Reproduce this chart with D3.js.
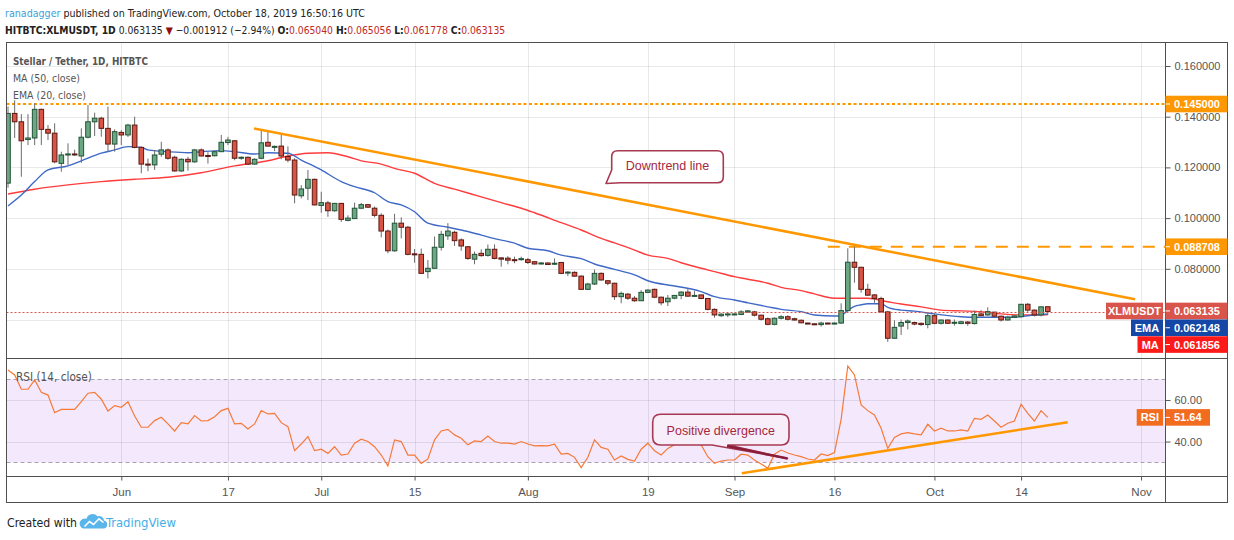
<!DOCTYPE html>
<html>
<head>
<meta charset="utf-8">
<script src="https://cdn.jsdelivr.net/npm/d3@7"></script>
<style>
body { margin: 0; background: #fff; }
svg { display: block; font-family: "Liberation Sans", Arial, sans-serif; }
</style>
</head>
<body>
<svg id="chart"></svg>
<script>
// daily candles, HITBTC:XLMUSDT, first bar 2019-05-15
const startDay = "2019-05-15";

const open = [
  0.1138, 0.1413, 0.1380, 0.1310, 0.1316, 0.1429, 0.1350, 0.1335, 0.1216, 0.1249,
  0.1253, 0.1245, 0.1319, 0.1380, 0.1394, 0.1354, 0.1292, 0.1338, 0.1328, 0.1367,
  0.1279, 0.1213, 0.1210, 0.1252, 0.1269, 0.1240, 0.1186, 0.1232, 0.1222, 0.1269,
  0.1247, 0.1246, 0.1262, 0.1298, 0.1305, 0.1236, 0.1240, 0.1213, 0.1236, 0.1299,
  0.1280, 0.1284, 0.1243, 0.1229, 0.1088, 0.1118, 0.1153, 0.1050, 0.1060, 0.1029,
  0.1058, 0.0991, 0.0998, 0.1039, 0.1053, 0.1039, 0.1011, 0.0949, 0.0871, 0.0980,
  0.0964, 0.0859, 0.0857, 0.0789, 0.0802, 0.0885, 0.0930, 0.0944, 0.0914, 0.0887,
  0.0838, 0.0861, 0.0853, 0.0877, 0.0843, 0.0842, 0.0836, 0.0836, 0.0836, 0.0828,
  0.0819, 0.0823, 0.0819, 0.0825, 0.0784, 0.0786, 0.0771, 0.0719, 0.0740, 0.0782,
  0.0753, 0.0743, 0.0690, 0.0700, 0.0684, 0.0674, 0.0707, 0.0719, 0.0688, 0.0670,
  0.0684, 0.0695, 0.0708, 0.0693, 0.0697, 0.0683, 0.0640, 0.0615, 0.0619, 0.0620,
  0.0620, 0.0629, 0.0630, 0.0617, 0.0603, 0.0581, 0.0605, 0.0611, 0.0603, 0.0597,
  0.0586, 0.0583, 0.0580, 0.0586, 0.0583, 0.0586, 0.0635, 0.0826, 0.0806, 0.0719,
  0.0697, 0.0683, 0.0630, 0.0526, 0.0574, 0.0588, 0.0588, 0.0585, 0.0580, 0.0615,
  0.0585, 0.0598, 0.0586, 0.0584, 0.0590, 0.0584, 0.0622, 0.0618, 0.0629, 0.0613,
  0.0598, 0.0609, 0.0611, 0.0660, 0.0637, 0.0618, 0.065040
];
const high = [
  0.1440, 0.1465, 0.1410, 0.1410, 0.1453, 0.1432, 0.1367, 0.1374, 0.1262, 0.1295,
  0.1270, 0.1354, 0.1446, 0.1416, 0.1400, 0.1440, 0.1350, 0.1347, 0.1372, 0.1400,
  0.1283, 0.1235, 0.1269, 0.1301, 0.1275, 0.1246, 0.1236, 0.1242, 0.1273, 0.1275,
  0.1260, 0.1265, 0.1328, 0.1320, 0.1308, 0.1243, 0.1243, 0.1236, 0.1347, 0.1343,
  0.1286, 0.1335, 0.1283, 0.1236, 0.1130, 0.1190, 0.1156, 0.1104, 0.1068, 0.1060,
  0.1060, 0.1011, 0.1061, 0.1060, 0.1056, 0.1046, 0.1019, 0.0955, 0.1017, 0.1003,
  0.0969, 0.0878, 0.0880, 0.0835, 0.0927, 0.0950, 0.0980, 0.0950, 0.0920, 0.0890,
  0.0868, 0.0877, 0.0896, 0.0896, 0.0846, 0.0850, 0.0848, 0.0848, 0.0843, 0.0830,
  0.0827, 0.0825, 0.0841, 0.0826, 0.0791, 0.0790, 0.0775, 0.0745, 0.0797, 0.0786,
  0.0755, 0.0745, 0.0710, 0.0705, 0.0692, 0.0716, 0.0719, 0.0722, 0.0690, 0.0697,
  0.0697, 0.0712, 0.0720, 0.0712, 0.0697, 0.0683, 0.0644, 0.0625, 0.0624, 0.0624,
  0.0637, 0.0637, 0.0634, 0.0619, 0.0608, 0.0608, 0.0617, 0.0617, 0.0607, 0.0600,
  0.0587, 0.0585, 0.0591, 0.0588, 0.0588, 0.0664, 0.0881, 0.0887, 0.0808, 0.0741,
  0.0700, 0.0690, 0.0634, 0.0597, 0.0600, 0.0600, 0.0592, 0.0588, 0.0622, 0.0622,
  0.0600, 0.0600, 0.0600, 0.0595, 0.0594, 0.0635, 0.0637, 0.0648, 0.0630, 0.0615,
  0.0615, 0.0617, 0.0661, 0.0665, 0.0640, 0.0651, 0.065056
];
const low = [
  0.1120, 0.1316, 0.1163, 0.1288, 0.1288, 0.1288, 0.1308, 0.1216, 0.1183, 0.1209,
  0.1245, 0.1218, 0.1314, 0.1324, 0.1321, 0.1262, 0.1262, 0.1288, 0.1320, 0.1275,
  0.1177, 0.1185, 0.1190, 0.1242, 0.1230, 0.1183, 0.1183, 0.1187, 0.1218, 0.1243,
  0.1215, 0.1243, 0.1262, 0.1288, 0.1228, 0.1230, 0.1210, 0.1210, 0.1232, 0.1282,
  0.1264, 0.1232, 0.1220, 0.1058, 0.1078, 0.1071, 0.1050, 0.1021, 0.1005, 0.1025,
  0.0985, 0.0987, 0.0998, 0.1035, 0.1041, 0.1003, 0.0924, 0.0861, 0.0867, 0.0920,
  0.0853, 0.0824, 0.0780, 0.0762, 0.0801, 0.0872, 0.0914, 0.0890, 0.0871, 0.0835,
  0.0818, 0.0848, 0.0848, 0.0837, 0.0808, 0.0818, 0.0822, 0.0832, 0.0819, 0.0817,
  0.0817, 0.0815, 0.0815, 0.0779, 0.0771, 0.0768, 0.0716, 0.0716, 0.0736, 0.0753,
  0.0735, 0.0677, 0.0664, 0.0677, 0.0670, 0.0673, 0.0704, 0.0684, 0.0656, 0.0653,
  0.0680, 0.0680, 0.0690, 0.0690, 0.0680, 0.0636, 0.0607, 0.0610, 0.0609, 0.0617,
  0.0617, 0.0627, 0.0612, 0.0596, 0.0577, 0.0577, 0.0600, 0.0596, 0.0596, 0.0585,
  0.0581, 0.0579, 0.0572, 0.0582, 0.0581, 0.0582, 0.0631, 0.0745, 0.0706, 0.0693,
  0.0666, 0.0628, 0.0512, 0.0524, 0.0539, 0.0561, 0.0577, 0.0575, 0.0565, 0.0581,
  0.0580, 0.0583, 0.0576, 0.0582, 0.0575, 0.0580, 0.0614, 0.0614, 0.0609, 0.0592,
  0.0596, 0.0606, 0.0608, 0.0630, 0.0612, 0.0612, 0.061778
];
const close = [
  0.1413, 0.1380, 0.1305, 0.1316, 0.1429, 0.1350, 0.1335, 0.1222, 0.1249, 0.1253,
  0.1250, 0.1319, 0.1380, 0.1394, 0.1354, 0.1292, 0.1341, 0.1328, 0.1367, 0.1279,
  0.1213, 0.1210, 0.1249, 0.1269, 0.1236, 0.1186, 0.1232, 0.1222, 0.1269, 0.1245,
  0.1243, 0.1262, 0.1299, 0.1308, 0.1236, 0.1240, 0.1213, 0.1232, 0.1297, 0.1284,
  0.1283, 0.1245, 0.1229, 0.1091, 0.1115, 0.1153, 0.1052, 0.1061, 0.1029, 0.1058,
  0.0995, 0.1000, 0.1039, 0.1053, 0.1043, 0.1011, 0.0949, 0.0871, 0.0980, 0.0964,
  0.0857, 0.0856, 0.0782, 0.0802, 0.0885, 0.0936, 0.0949, 0.0911, 0.0890, 0.0841,
  0.0857, 0.0852, 0.0877, 0.0841, 0.0838, 0.0834, 0.0834, 0.0840, 0.0825, 0.0819,
  0.0823, 0.0817, 0.0822, 0.0782, 0.0787, 0.0771, 0.0719, 0.0740, 0.0782, 0.0756,
  0.0743, 0.0690, 0.0703, 0.0684, 0.0674, 0.0707, 0.0716, 0.0688, 0.0666, 0.0684,
  0.0695, 0.0708, 0.0692, 0.0695, 0.0683, 0.0640, 0.0618, 0.0621, 0.0622, 0.0622,
  0.0630, 0.0634, 0.0617, 0.0601, 0.0581, 0.0605, 0.0611, 0.0601, 0.0598, 0.0587,
  0.0583, 0.0580, 0.0586, 0.0583, 0.0586, 0.0635, 0.0826, 0.0806, 0.0719, 0.0696,
  0.0683, 0.0630, 0.0526, 0.0569, 0.0588, 0.0594, 0.0582, 0.0580, 0.0615, 0.0585,
  0.0598, 0.0585, 0.0589, 0.0591, 0.0585, 0.0620, 0.0615, 0.0631, 0.0613, 0.0598,
  0.0609, 0.0614, 0.0660, 0.0637, 0.0618, 0.0650, 0.063135
];

// RSI(14) per bar
const rsi = [
  74.5, 72.1, 65.2, 65.2, 69.7, 63.7, 62.4, 53.9, 55.5, 55.5,
  55.5, 59.2, 63.3, 63.7, 60.4, 54.7, 57.3, 56.5, 59.2, 52.3,
  46.9, 46.9, 50.1, 51.7, 48.5, 45.1, 49.1, 48.5, 52.5, 49.9,
  50.1, 52.0, 54.9, 56.0, 48.5, 48.8, 46.1, 48.5, 54.9, 53.3,
  53.6, 49.1, 47.2, 35.6, 38.8, 42.4, 35.6, 36.3, 34.3, 37.5,
  33.5, 34.0, 39.2, 41.1, 40.0, 37.5, 33.5, 28.2, 40.8, 40.0,
  33.5, 33.5, 29.5, 31.6, 40.8, 45.1, 45.9, 43.2, 41.6, 38.4,
  40.3, 40.0, 42.7, 40.0, 39.2, 39.2, 38.8, 40.0, 38.8, 37.9,
  38.0, 37.9, 38.7, 34.0, 34.3, 32.4, 27.4, 32.4, 40.8, 37.2,
  36.3, 31.1, 33.1, 31.4, 30.6, 36.3, 39.2, 35.6, 33.5, 36.7,
  38.4, 41.1, 39.5, 40.3, 38.4, 32.7, 29.5, 30.6, 31.1, 31.1,
  33.9, 33.5, 31.1, 29.2, 27.1, 33.9, 35.9, 34.5, 33.5, 32.7,
  31.6, 31.1, 34.0, 33.2, 34.7, 50.7, 76.4, 72.1, 57.6, 54.9,
  52.8, 46.4, 36.7, 42.0, 43.7, 44.3, 43.7, 43.2, 48.3, 45.1,
  46.4, 45.1, 45.1, 45.6, 45.1, 51.2, 50.7, 52.8, 49.9, 46.9,
  48.8, 49.9, 58.0, 53.6, 49.9, 54.9, 51.64
];

// moving averages: [bar index, value]
const ema20 = [
  [0, 0.1048], [2, 0.1091], [4, 0.1144], [6, 0.1190], [9, 0.1206], [11, 0.1226],
  [14, 0.1256], [16, 0.1269], [18, 0.1282], [20, 0.1279], [21, 0.1269], [24, 0.1262],
  [27, 0.1258], [29, 0.1262], [32, 0.1266], [34, 0.1262], [37, 0.1253], [39, 0.1258],
  [42, 0.1256], [44, 0.1229], [47, 0.1190], [50, 0.1144], [52, 0.1124], [55, 0.1100],
  [57, 0.1065], [59, 0.1052], [61, 0.1025], [63, 0.0980], [66, 0.0964], [68, 0.0953],
  [71, 0.0933], [73, 0.0919], [76, 0.0901], [78, 0.0881], [81, 0.0871], [83, 0.0854],
  [86, 0.0840], [88, 0.0819], [89, 0.0811], [91, 0.0798], [94, 0.0776], [96, 0.0753],
  [99, 0.0736], [100, 0.0732], [104, 0.0710], [106, 0.0690], [109, 0.0677], [111, 0.0666],
  [114, 0.0650], [116, 0.0640], [119, 0.0631], [121, 0.0618], [124, 0.0614], [125, 0.0616],
  [126, 0.0636], [127, 0.0652], [128, 0.0658], [129, 0.0662], [131, 0.0662], [132, 0.0648],
  [134, 0.0637], [136, 0.0633], [139, 0.0622], [143, 0.0611], [145, 0.0609], [148, 0.0609],
  [151, 0.0609], [153, 0.0615], [156, 0.062148]
];
const ma50 = [
  [0, 0.1095], [4, 0.1114], [9, 0.1131], [14, 0.1144], [19, 0.1153], [24, 0.1161],
  [29, 0.1179], [34, 0.1206], [39, 0.1226], [42, 0.1245], [45, 0.1256], [48, 0.1258],
  [51, 0.1242], [53, 0.1226], [56, 0.1213], [58, 0.1196], [61, 0.1177], [64, 0.1137],
  [67, 0.1114], [71, 0.1084], [74, 0.1061], [77, 0.1039], [79, 0.1021], [83, 0.0982],
  [86, 0.0953], [89, 0.0920], [91, 0.0902], [94, 0.0874], [96, 0.0854], [99, 0.0841],
  [101, 0.0824], [104, 0.0802], [106, 0.0789], [109, 0.0769], [111, 0.0759], [114, 0.0743],
  [116, 0.0727], [119, 0.0714], [121, 0.0701], [124, 0.0684], [126, 0.0684], [129, 0.0684],
  [132, 0.0670], [134, 0.0661], [137, 0.0650], [140, 0.0637], [143, 0.0634], [146, 0.0631],
  [149, 0.0622], [152, 0.0618], [156, 0.061856]
];

// drawings on the chart: [bar index, value]
const downtrend = [[36.9, 0.1354], [169.1, 0.0680]];
const rsiTrend = [[110.1, 24.7], [159.0, 49.3]];
const resistance = 0.145;
const swingHigh = 0.088708;
const swingHighFrom = 123;

const priceGrid = [0.06, 0.08, 0.10, 0.12, 0.14, 0.16];
const priceTicks = [0.08, 0.10, 0.12, 0.14, 0.16];
const rsiTicks = [40, 60];
const timeTicks = ["2019-06-01", "2019-06-17", "2019-07-01", "2019-07-15", "2019-08-01",
  "2019-08-19", "2019-09-01", "2019-09-16", "2019-10-01", "2019-10-14", "2019-11-01"];
const timeLabels = ["Jun", "17", "Jul", "15", "Aug", "19", "Sep", "16", "Oct", "14", "Nov"];

const lastEma = 0.062148, lastMa = 0.061856, lastRsi = 51.64;
const quote = { o: "0.065040", h: "0.065056", l: "0.061778", c: "0.063135" };

// ---------------------------------------------------------------
const svg = d3.select('#chart').attr('width', 1234).attr('height', 540);
svg.append('rect').attr('width', 1234).attr('height', 540).attr('fill', '#fff');

const L = 6.5, R = 1165.5, OUT = 1227.5, TOP = 42.5, MID = 358.5, RB = 476.5, BOT = 502.5;
const narrow = '"Liberation Sans Narrow", "DejaVu Sans Condensed", "Liberation Sans", Arial, sans-serif';

const parse = d3.utcParse('%Y-%m-%d');
const start = parse(startDay);
const at = i => new Date(+start + i * 864e5);

const x = d3.scaleUtc().domain([start, parse('2019-11-01')]).range([8, 8 + 170 * 6.665]);
const y = d3.scaleLinear().domain([0.08, 0.16]).range([268.8, 66]);
const yR = d3.scaleLinear().domain([30, 70]).range([462.3, 379.3]);

const defs = svg.append('defs');
defs.append('clipPath').attr('id', 'clipMain').append('rect')
  .attr('x', L).attr('y', TOP).attr('width', R - L).attr('height', MID - TOP);
defs.append('clipPath').attr('id', 'clipRsi').append('rect')
  .attr('x', L).attr('y', MID).attr('width', R - L).attr('height', RB - MID);

// RSI band
svg.append('rect').attr('x', L).attr('width', R - L)
  .attr('y', yR(70)).attr('height', yR(30) - yR(70)).attr('fill', '#f4e8fd');

// grid
const grid = svg.append('g').attr('stroke', 'rgba(0,0,0,0.085)').attr('stroke-width', 1);
grid.selectAll('.gx').data(timeTicks).join('line')
  .attr('x1', d => Math.round(x(parse(d))) + 0.5).attr('x2', d => Math.round(x(parse(d))) + 0.5)
  .attr('y1', TOP).attr('y2', RB);
grid.selectAll('.gy').data(priceGrid).join('line')
  .attr('x1', L).attr('x2', R)
  .attr('y1', d => Math.round(y(d)) + 0.5).attr('y2', d => Math.round(y(d)) + 0.5);
grid.selectAll('.gr').data(rsiTicks).join('line')
  .attr('x1', L).attr('x2', R)
  .attr('y1', d => Math.round(yR(d)) + 0.5).attr('y2', d => Math.round(yR(d)) + 0.5);

svg.append('g').selectAll('line').data([70, 30]).join('line')
  .attr('x1', L).attr('x2', R)
  .attr('y1', d => Math.round(yR(d)) + 0.5).attr('y2', d => Math.round(yR(d)) + 0.5)
  .attr('stroke', '#a9a2ad').attr('stroke-dasharray', '4,3');

// ---- main pane
const main = svg.append('g').attr('clip-path', 'url(#clipMain)');

main.append('line').attr('x1', L).attr('x2', R)
  .attr('y1', y(resistance)).attr('y2', y(resistance))
  .attr('stroke', '#ff9800').attr('stroke-width', 2).attr('stroke-dasharray', '3,2.5');
main.append('line').attr('x1', x(at(swingHighFrom))).attr('x2', R)
  .attr('y1', y(swingHigh)).attr('y2', y(swingHigh))
  .attr('stroke', '#ff9800').attr('stroke-width', 2).attr('stroke-dasharray', '12,9');

const avgLine = d3.line().x(d => x(at(d[0]))).y(d => y(d[1])).curve(d3.curveMonotoneX);
main.append('path').datum(ma50).attr('d', avgLine)
  .attr('fill', 'none').attr('stroke', '#ff3b3b').attr('stroke-width', 1.4);
main.append('path').datum(ema20).attr('d', avgLine)
  .attr('fill', 'none').attr('stroke', '#3f69c6').attr('stroke-width', 1.4);

const candles = open.map((o, i) => ({ date: at(i), o, h: high[i], l: low[i], c: close[i] }));
const bw = 4.6;
main.append('g').selectAll('line').data(candles).join('line')
  .attr('x1', d => x(d.date)).attr('x2', d => x(d.date))
  .attr('y1', d => y(d.h)).attr('y2', d => y(d.l))
  .attr('stroke', '#6b6b6b').attr('stroke-width', 1);
main.append('g').selectAll('rect').data(candles).join('rect')
  .attr('x', d => x(d.date) - bw / 2).attr('width', bw)
  .attr('y', d => y(Math.max(d.o, d.c)))
  .attr('height', d => Math.max(1, Math.abs(y(d.o) - y(d.c))))
  .attr('fill', d => d.c >= d.o ? '#6aa782' : '#d85444')
  .attr('stroke', d => d.c >= d.o ? '#225437' : '#5b1a13')
  .attr('stroke-width', 1);

main.append('path').datum(downtrend)
  .attr('d', d3.line().x(d => x(at(d[0]))).y(d => y(d[1])))
  .attr('stroke', '#ff9800').attr('stroke-width', 2.5).attr('fill', 'none');

const lastClose = close[close.length - 1];
main.append('line').attr('x1', L).attr('x2', R)
  .attr('y1', Math.round(y(lastClose)) + 0.5).attr('y2', Math.round(y(lastClose)) + 0.5)
  .attr('stroke', '#d9544a').attr('stroke-dasharray', '2,2');

// ---- RSI pane
const low2 = svg.append('g').attr('clip-path', 'url(#clipRsi)');
low2.append('path').datum(rsi)
  .attr('d', d3.line().x((d, i) => x(at(i))).y(d => yR(d)))
  .attr('fill', 'none').attr('stroke', '#f57a38').attr('stroke-width', 1.2);
low2.append('path').datum(rsiTrend)
  .attr('d', d3.line().x(d => x(at(d[0]))).y(d => yR(d[1])))
  .attr('stroke', '#ff9800').attr('stroke-width', 2.5).attr('fill', 'none');

// ---- callouts
function callout(pathD, fill) {
  svg.append('path').attr('d', pathD).attr('fill', fill)
    .attr('stroke', '#a63a52').attr('stroke-width', 1.6).attr('stroke-linejoin', 'round');
}
{
  const x0 = 611.7, x1 = 723.3, y0 = 150.7, y1 = 182.7, r = 6;
  callout(`M${x0 + r},${y0}H${x1 - r}Q${x1},${y0} ${x1},${y0 + r}V${y1 - r}Q${x1},${y1} ${x1 - r},${y1}` +
    `H${x0 + 9}L606,183.5L${x0},170V${y0 + r}Q${x0},${y0} ${x0 + r},${y0}Z`, '#fff');
  svg.append('text').attr('x', 667.5).attr('y', 170).attr('text-anchor', 'middle')
    .attr('font-size', 12.5).attr('fill', '#a3283f').text('Downtrend line');
}
{
  const x0 = 652.7, x1 = 789, y0 = 414.3, y1 = 445, r = 8;
  callout(`M${x0 + r},${y0}H${x1 - r}Q${x1},${y0} ${x1},${y0 + r}V${y1 - r}Q${x1},${y1} ${x1 - r},${y1}` +
    `H728L787.5,458.5L712,${y1}H${x0 + r}Q${x0},${y1} ${x0},${y1 - r}V${y0 + r}Q${x0},${y0} ${x0 + r},${y0}Z`, '#f8eefa');
  svg.append('line').attr('x1', 727).attr('y1', 446).attr('x2', 787.5).attr('y2', 458.5)
    .attr('stroke', '#8c1d3a').attr('stroke-width', 2.4);
  svg.append('text').attr('x', 720.8).attr('y', 434.5).attr('text-anchor', 'middle')
    .attr('font-size', 12.5).attr('fill', '#a3283f').text('Positive divergence');
}

// ---- texts: shrink the font until the run fits the width seen in the reference
function fit(el, w, size) {
  const len = el.node().getComputedTextLength();
  if (len > w) el.attr('font-size', +(size * w / len).toFixed(2));
  return el;
}
function runs(x0, yb, w, size, parts) {
  const t = svg.append('text').attr('x', x0).attr('y', yb)
    .attr('font-size', size).attr('font-family', narrow);
  parts.forEach(p => t.append('tspan').attr('fill', p[1] || '#222')
    .attr('font-weight', p[2] ? 'bold' : 'normal').text(p[0]));
  return fit(t, w, size);
}
const grey = '#555';
runs(13, 65, 135, 13, [['Stellar / Tether, 1D, HITBTC', grey, true]]);
runs(13, 82, 67, 13, [['MA (50, close)', grey]]);
runs(13, 98.5, 73, 13, [['EMA (20, close)', grey]]);
runs(16, 381, 76, 13, [['RSI (14, close)', grey]]);

// header
const red = '#c0281f';
runs(5, 17, 360, 13, [['ranadagger', '#3d9fd9'],
  [' published on TradingView.com, October 18, 2019 16:50:16 UTC']]);
runs(5, 34, 500, 13, [['HITBTC:XLMUSDT, 1D', null, true], [' 0.063135 '], ['\u25BC', '#8b0f0f'],
  [' \u22120.001912 (\u22122.94%) '],
  ['O:', null, true], [quote.o + ' ', red], ['H:', null, true], [quote.h + ' ', red],
  ['L:', null, true], [quote.l + ' ', red], ['C:', null, true], [quote.c, red]]);

// footer
runs(7, 527, 70, 14, [['Created with']]);
svg.append('path')
  .attr('d', 'M83,528.5H103.5A4,4 0 0 0 104,520.6A5,5 0 0 0 97.5,516.2A6.5,6.5 0 0 0 86.5,518.8A4.6,4.6 0 0 0 83,528.5Z')
  .attr('fill', '#5ab6ea');
svg.append('polyline').attr('points', '84.5,526.5 89.5,521.5 93.5,524.5 99,518.8 103.5,522.5')
  .attr('fill', 'none').attr('stroke', '#fff').attr('stroke-width', 1.6);
runs(106, 527, 70, 14, [['TradingView', '#43aee6']]);

// ---- frame
const frame = svg.append('g').attr('stroke', '#4f4f4f').attr('stroke-width', 1).attr('fill', 'none');
frame.append('rect').attr('x', L).attr('y', TOP).attr('width', OUT - L).attr('height', BOT - TOP);
frame.append('line').attr('x1', R).attr('x2', R).attr('y1', TOP).attr('y2', BOT);
frame.append('line').attr('x1', L).attr('x2', OUT).attr('y1', MID).attr('y2', MID);
frame.append('line').attr('x1', L).attr('x2', OUT).attr('y1', RB).attr('y2', RB);

// ---- axes
function styleAxis(g, size) {
  g.select('.domain').remove();
  g.selectAll('.tick line').attr('stroke', '#555');
  g.selectAll('.tick text').attr('fill', '#555').attr('font-size', size)
    .attr('font-family', '"Liberation Sans", Arial, sans-serif');
}
svg.append('g').attr('transform', `translate(${R},0)`)
  .call(d3.axisRight(y).tickValues(priceTicks).tickFormat(d3.format('.6f')).tickSize(5).tickPadding(4))
  .call(g => styleAxis(g, 11));
svg.append('g').attr('transform', `translate(${R},0)`)
  .call(d3.axisRight(yR).tickValues(rsiTicks).tickFormat(d3.format('.2f')).tickSize(5).tickPadding(4))
  .call(g => styleAxis(g, 11));
svg.append('g').attr('transform', `translate(0,${RB})`)
  .call(d3.axisBottom(x).tickValues(timeTicks.map(parse)).tickFormat((d, i) => timeLabels[i]).tickSize(4).tickPadding(7))
  .call(g => styleAxis(g, 11.5));

// ---- price scale tags
function tag(x0, x1, yc, color, text, tick) {
  const h = 16.6;
  svg.append('rect').attr('x', x0).attr('y', yc - h / 2).attr('width', x1 - x0).attr('height', h).attr('fill', color);
  if (tick) svg.append('line').attr('x1', x0).attr('x2', x0 + 4.5).attr('y1', yc).attr('y2', yc)
    .attr('stroke', '#fff').attr('stroke-width', 1);
  svg.append('text').attr('x', tick ? x0 + 8.5 : (x0 + x1) / 2).attr('y', yc).attr('dy', '0.36em')
    .attr('text-anchor', tick ? 'start' : 'middle')
    .attr('font-size', 11).attr('font-weight', 'bold').attr('fill', '#fff').text(text);
}
const fmt6 = d3.format('.6f');
tag(R, OUT, y(resistance), '#ff9800', fmt6(resistance), true);
tag(R, OUT, y(swingHigh), '#ff9800', fmt6(swingHigh), true);

const tags = [
  { name: 'XLMUSDT', w: 57, v: lastClose, color: '#d9544a' },
  { name: 'EMA', w: 32, v: lastEma, color: '#1447a6' },
  { name: 'MA', w: 25.5, v: lastMa, color: '#ff1a1a' }
];
tags.forEach((t, k) => {
  const yc = y(lastClose) - 0.6 + k * 16.8;
  tag(R - 2.5 - t.w, R - 2.5, yc, t.color, t.name, false);
  tag(R, OUT, yc, t.color, fmt6(t.v), true);
});
tag(R - 28.8, R - 2.5, yR(lastRsi), '#f26c1f', 'RSI', false);
tag(R, 1210, yR(lastRsi), '#f26c1f', lastRsi.toFixed(2), true);
</script>
</body>
</html>
